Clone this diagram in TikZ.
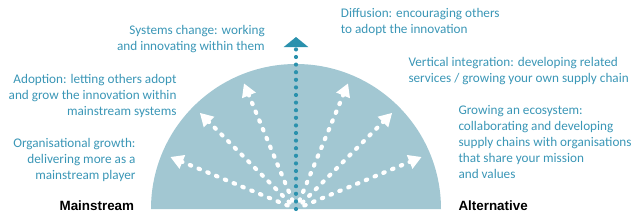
\documentclass[tikz,border=0pt]{standalone}
\usepackage{fontspec}
\setmainfont{Carlito}
\newfontfamily\headfont{Liberation Sans}
\usetikzlibrary{arrows.meta}
\definecolor{discblue}{HTML}{A2C7D2}
\definecolor{txtblue}{HTML}{3A96B6}
\definecolor{dotblue}{HTML}{2A91AD}

\begin{document}
\begin{tikzpicture}[x=1pt,y=1pt,
  lbl/.style={text=txtblue,font=\fontsize{13.2}{16}\selectfont,inner sep=0pt},
  side/.style={font=\headfont\bfseries\fontsize{13.4}{16}\selectfont,inner sep=0pt},
  route/.style={white,line width=4.2pt,line cap=round,dash pattern=on 1.5pt off 8pt,
    shorten <=9pt,-{Triangle[length=13pt,width=14pt,fill=white]}}]
  \useasboundingbox (-296,-14) rectangle (344,209);

  % half disc
  \fill[discblue] (-145,0) arc[start angle=180,end angle=0,radius=145] -- cycle;
  \coordinate (c) at (0,0);

  % white dotted arrows
  \foreach \ang/\nm in {22.5/r1,45/r2,67.5/r3,112.5/l3,135/l2,157.5/l1}{
    \coordinate (\nm) at (\ang:136);
    \draw[route] (c) -- (\nm);
  }

  % blue dotted arrow
  \coordinate (top) at (0,172);
  \draw[dotblue,line width=4.2pt,line cap=round,dash pattern=on 0pt off 7.6pt,
    -{Triangle[length=10pt,width=24pt]}] (c) -- (top);

  % labels (anchored at the last line's baseline)
  \node[lbl,align=right,anchor=base east] (sys) at (-31,159)
    {Systems change: working\\and innovating within them};
  \node[lbl,align=right,anchor=base east] (adopt) at (-119.3,94)
    {Adoption: letting others adopt\\and grow the innovation within\\mainstream systems};
  \node[lbl,align=right,anchor=base east] (org) at (-160.3,30)
    {Organisational growth:\\delivering more as a\\mainstream player};
  \node[lbl,align=left,anchor=base west] (diff) at (44.7,175.7)
    {Diffusion: encouraging others\\to adopt the innovation};
  \node[lbl,align=left,anchor=base west] (vert) at (112.3,127)
    {Vertical integration: developing related\\services / growing your own supply chain};
  \node[lbl,align=left,anchor=base west] (eco) at (162.3,31)
    {Growing an ecosystem:\\collaborating and developing\\supply chains with organisations\\that share your mission\\and values};

  \node[side,anchor=base east] (main) at (-161.7,-1.7) {Mainstream};
  \node[side,anchor=base west] (alt) at (162.3,-1.7) {Alternative};
\end{tikzpicture}
\end{document}
